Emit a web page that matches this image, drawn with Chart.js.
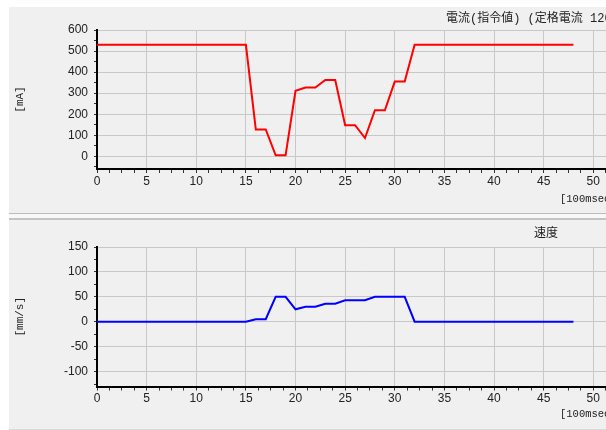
<!DOCTYPE html>
<html>
<head>
<meta charset="utf-8">
<script src="https://cdn.jsdelivr.net/npm/chart.js@4.4.1/dist/chart.umd.min.js"></script>
<style>
  html, body { margin: 0; padding: 0; background: #fff; overflow: hidden; width: 606px; height: 430px; }
  .panel { position: absolute; left: 9px; width: 597px; background: #f0f0f0; }
  .sep { position: absolute; left: 9px; width: 597px; }
  canvas { position: absolute; left: 0; }
  .lbl { position: absolute; white-space: nowrap; line-height: 12px; font-size: 12px; color: #222; }
  .jp { font-family: "Liberation Mono", "Noto Sans CJK JP", monospace; }
  .unit { font-family: "Liberation Mono", monospace; font-size: 10.5px; }
</style>
</head>
<body>
<div class="panel" style="top:7px;height:206px;"></div>
<div class="sep" style="top:213px;height:1px;background:#bcbcbc;"></div>
<div class="sep" style="top:214px;height:4px;background:#f8f8f8;"></div>
<div class="sep" style="top:218px;height:2px;background:#c4c4c4;"></div>
<div class="panel" style="top:220px;height:209px;"></div>
<div class="sep" style="top:429px;height:1px;background:#dadada;"></div>

<canvas id="currentChart" style="top:0px;"></canvas>
<canvas id="speedChart" style="top:220px;"></canvas>

<div class="lbl jp" style="left:446px;top:13px;">電流(指令値) (定格電流 1200mA)</div>
<div class="lbl unit" style="left:560px;top:193px;">[100msec]</div>
<div class="lbl jp" style="left:534px;top:228px;">速度</div>
<div class="lbl unit" style="left:560px;top:408px;">[100msec]</div>

<script>
// time axis [100msec]
const currentTime = [0, 15, 16, 17, 18, 19, 20, 21, 22, 23, 24, 25, 26, 27, 28, 29, 30, 31, 32, 48];
const currentValues = [530, 530, 128, 128, 5, 5, 311, 327, 327, 363, 363, 148, 148, 87, 219, 219, 355, 355, 530, 530];

const speedTime = [0, 15, 16, 17, 18, 19, 20, 21, 22, 23, 24, 25, 26, 27, 28, 29, 30, 31, 32, 48];
const speedValues = [0, 0, 5, 5, 50, 50, 25, 30, 30, 36, 36, 43, 43, 43, 50, 50, 50, 50, 0, 0];

const xTickLabels = [0, 5, 10, 15, 20, 25, 30, 35, 40, 45, 50];
const currentTickLabels = [0, 100, 200, 300, 400, 500, 600];
const speedTickLabels = [-100, -50, 0, 50, 100, 150];

const FONT = "'Liberation Sans Narrow', 'Liberation Sans', Arial, sans-serif";
const GRID = '#c8c8c8';
const CLEAR = 'rgba(0,0,0,0)';

function makeChart(id, opts) {
  const canvas = document.getElementById(id);
  canvas.width = opts.width;
  canvas.height = opts.height;
  canvas.style.width = opts.width + 'px';
  canvas.style.height = opts.height + 'px';

  // minor tick marks on x every 1.25, on y every half label step
  const xMinor = [];
  for (let v = 0; v <= opts.xMax; v += 1.25) xMinor.push(v);
  const yMinor = [];
  for (let v = opts.yMinorStart; v <= opts.yMax; v += opts.yMinorStep) yMinor.push(v);

  return new Chart(canvas, {
    type: 'scatter',
    data: {
      datasets: [{
        data: opts.time.map((t, i) => ({ x: t, y: opts.values[i] })),
        showLine: true,
        borderColor: opts.color,
        borderWidth: 2,
        pointRadius: 0,
        tension: 0
      }]
    },
    options: {
      responsive: false,
      animation: false,
      layout: { autoPadding: false, padding: { top: opts.padTop, left: 0, right: 0, bottom: 0 } },
      plugins: { legend: { display: false }, tooltip: { enabled: false } },
      scales: {
        x: {
          type: 'linear',
          min: 0,
          max: opts.xMax,
          afterBuildTicks: s => { s.ticks = xMinor.map(v => ({ value: v })); },
          afterFit: s => { s.height = opts.height - opts.axisBottom; },
          border: { color: '#000', width: 2 },
          grid: {
            color: c => (c.tick && xTickLabels.includes(c.tick.value)) ? GRID : CLEAR,
            tickColor: '#333',
            tickLength: 4,
            lineWidth: 1
          },
          ticks: {
            autoSkip: false,
            maxRotation: 0,
            padding: 1,
            color: '#222',
            font: { family: FONT, size: 12 },
            callback: v => xTickLabels.includes(v) ? String(v) : ''
          }
        },
        y: {
          min: opts.yMin,
          max: opts.yMax,
          afterBuildTicks: s => { s.ticks = yMinor.map(v => ({ value: v })); },
          afterFit: s => { s.width = 97; },
          border: { color: '#000', width: 2 },
          grid: {
            color: c => (c.tick && opts.yLabels.includes(c.tick.value)) ? GRID : CLEAR,
            tickColor: '#333',
            tickLength: 3,
            lineWidth: 1
          },
          ticks: {
            autoSkip: false,
            padding: 6,
            color: '#222',
            font: { family: FONT, size: 12 },
            callback: v => opts.yLabels.includes(v) ? String(v) : ''
          },
          title: {
            display: true,
            text: opts.yTitle,
            color: '#222',
            font: { family: "'Liberation Mono', monospace", size: 11 },
            padding: { top: 13, bottom: 0 }
          }
        }
      }
    }
  });
}

makeChart('currentChart', {
  width: 633, height: 212, padTop: 30, axisBottom: 169, xMax: 54,
  yMin: -60, yMax: 600, yMinorStart: -50, yMinorStep: 50, yLabels: currentTickLabels,
  yTitle: '[mA]', time: currentTime, values: currentValues, color: '#ff0000'
});

makeChart('speedChart', {
  width: 633, height: 209, padTop: 27, axisBottom: 166.5, xMax: 54,
  yMin: -130, yMax: 150, yMinorStart: -125, yMinorStep: 25, yLabels: speedTickLabels,
  yTitle: '[mm/s]', time: speedTime, values: speedValues, color: '#0000ff'
});
</script>
</body>
</html>
